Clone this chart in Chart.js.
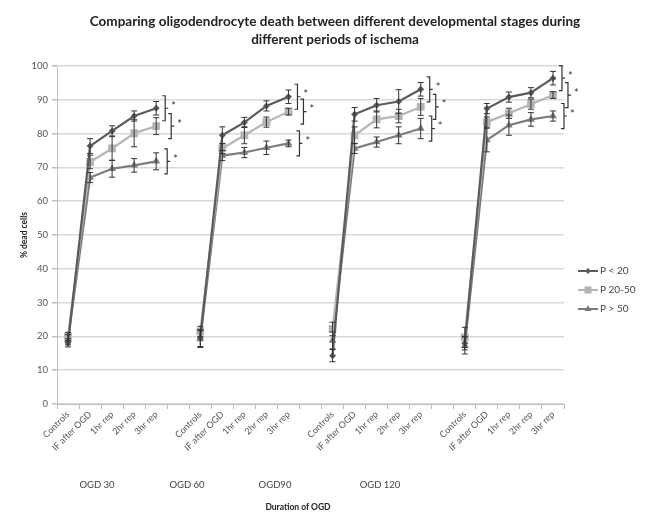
<!DOCTYPE html>
<html lang="en">
<head>
<meta charset="UTF-8">
<title>Oligodendrocyte death</title>
<script src="https://cdn.jsdelivr.net/npm/chart.js@4.4.0/dist/chart.umd.min.js"></script>
<style>
  html, body { margin: 0; padding: 0; background: #fff; }
  #wrap { width: 651px; height: 513px; }
</style>
</head>
<body>
<div id="wrap"><canvas id="myChart" width="651" height="513"></canvas></div>
<script>
// categories: 4 OGD groups, one blank slot between groups
var stages = ['Controls', 'IF after OGD', '1hr rep', '2hr rep', '3hr rep'];
var categories = [].concat(stages, [''], stages, [''], stages, [''], stages);
var groupNames = ['OGD 30', 'OGD 60', 'OGD90', 'OGD 120'];
var seriesNames = ['P < 20', 'P 20-50', 'P > 50'];
var yTicks = [0, 10, 20, 30, 40, 50, 60, 70, 80, 90, 100];

// % dead cells
var pUnder20 = [18.1, 76.3, 80.8, 85.2, 87.5, null, 19.5, 79.5, 83.3, 88.2, 90.9, null, 14.3, 85.7, 88.4, 89.5, 93.1, null, 18.0, 87.4, 90.8, 92.1, 96.4];
var p20to50  = [20.0, 71.6, 75.6, 80.1, 82.2, null, 21.5, 75.6, 79.5, 83.4, 86.5, null, 22.2, 79.5, 84.2, 85.2, 87.9, null, 19.7, 83.4, 86.0, 88.7, 91.4];
var pOver50  = [19.0, 67.0, 69.6, 70.6, 71.8, null, 19.2, 73.5, 74.4, 75.8, 77.1, null, 18.8, 75.6, 77.5, 79.5, 81.5, null, 17.3, 78.1, 82.5, 84.2, 85.2];

// error (+/-)
var errUnder20 = [1.2, 2.2, 1.5, 1.5, 2.0, null, 2.5, 2.5, 1.5, 1.5, 2.0, null, 1.8, 2.0, 2.0, 3.5, 2.0, null, 2.0, 1.5, 1.5, 1.5, 2.0];
var err20to50  = [1.2, 2.0, 3.5, 4.0, 2.5, null, 1.5, 1.5, 2.5, 1.5, 1.0, null, 2.0, 2.5, 2.5, 2.0, 2.5, null, 3.0, 1.5, 1.5, 1.5, 1.0];
var errOver50  = [1.5, 1.5, 2.5, 2.0, 2.5, null, 2.5, 1.5, 1.5, 2.0, 1.0, null, 2.5, 1.5, 1.5, 2.5, 3.0, null, 2.5, 3.5, 3.0, 2.0, 1.5];

// significance brackets sit on the 3hr rep point of each group
var sigIndex = [4, 10, 16, 22];

var lineColors = ['#5b5b5b', '#b5b5b5', '#7c7c7c'];
var FONT = 'Lato, "Liberation Sans", sans-serif';

// error bars
var errorBarPlugin = {
  id: 'errorBars',
  afterDatasetsDraw: function (chart) {
    var ctx = chart.ctx;
    var y = chart.scales.y;
    ctx.save();
    ctx.strokeStyle = '#333';
    ctx.lineWidth = 1;
    chart.data.datasets.forEach(function (ds, di) {
      var meta = chart.getDatasetMeta(di);
      ds.data.forEach(function (v, i) {
        var e = ds.errors[i];
        if (v == null || e == null) return;
        var px = meta.data[i].x;
        var top = y.getPixelForValue(v + e);
        var bot = y.getPixelForValue(v - e);
        ctx.beginPath();
        ctx.moveTo(px, top); ctx.lineTo(px, bot);
        ctx.moveTo(px - 3, top); ctx.lineTo(px + 3, top);
        ctx.moveTo(px - 3, bot); ctx.lineTo(px + 3, bot);
        ctx.stroke();
      });
    });
    ctx.restore();
  }
};

// brackets with asterisks
var bracketPlugin = {
  id: 'brackets',
  afterDatasetsDraw: function (chart, args, opts) {
    var ctx = chart.ctx;
    var y = chart.scales.y;
    ctx.save();
    ctx.strokeStyle = '#333';
    ctx.fillStyle = '#333';
    ctx.lineWidth = 1.2;
    ctx.font = '11px ' + FONT;
    ctx.textBaseline = 'middle';
    chart.data.datasets.forEach(function (ds, di) {
      var meta = chart.getDatasetMeta(di);
      sigIndex.forEach(function (i) {
        var v = ds.data[i];
        var bx = meta.data[i].x + opts.offsets[di];
        var top = y.getPixelForValue(v + opts.half);
        var bot = y.getPixelForValue(v - opts.half);
        var mid = (top + bot) / 2;
        ctx.beginPath();
        ctx.moveTo(bx - 3, top); ctx.lineTo(bx, top); ctx.lineTo(bx, bot); ctx.lineTo(bx - 3, bot);
        ctx.moveTo(bx, mid); ctx.lineTo(bx + 3, mid);
        ctx.stroke();
        ctx.fillText('*', bx + 6, mid - 2);
      });
    });
    ctx.restore();
  }
};

// title, group labels, x title, legend
var textPlugin = {
  id: 'texts',
  afterDraw: function (chart) {
    var ctx = chart.ctx;
    ctx.save();
    ctx.fillStyle = '#222';
    ctx.textAlign = 'center';
    ctx.textBaseline = 'middle';
    ctx.font = 'bold 13.5px ' + FONT;
    ctx.fillText('Comparing oligodendrocyte death between different developmental stages during', 335, 22);
    ctx.fillText('different periods of ischema', 335, 40);

    ctx.font = '9.5px ' + FONT;
    ctx.fillStyle = '#444';
    var gx = [97, 187, 275, 380];
    groupNames.forEach(function (g, i) { ctx.fillText(g, gx[i], 485); });

    ctx.font = 'bold 8.5px ' + FONT;
    ctx.fillStyle = '#222';
    ctx.fillText('Duration of OGD', 298, 507);

    // legend
    ctx.textAlign = 'left';
    ctx.font = '10px ' + FONT;
    var rows = [271, 290, 309];
    var styles = ['rectRot', 'rect', 'triangle'];
    var radii = [3, 5, 4];
    chart.data.datasets.forEach(function (ds, i) {
      ctx.strokeStyle = lineColors[i];
      ctx.lineWidth = 2;
      ctx.beginPath();
      ctx.moveTo(578, rows[i]); ctx.lineTo(598, rows[i]);
      ctx.stroke();
      ctx.fillStyle = lineColors[i];
      Chart.helpers.drawPoint(ctx, { pointStyle: styles[i], radius: radii[i], borderWidth: 0 }, 588, rows[i]);
      ctx.fillStyle = '#444';
      ctx.fillText(ds.label, 600, rows[i]);
    });
    ctx.restore();
  }
};

function makeSet(label, data, errors, color, style, radius) {
  return {
    label: label,
    data: data,
    errors: errors,
    borderColor: color,
    backgroundColor: color,
    borderWidth: 2.2,
    pointStyle: style,
    pointRadius: radius,
    pointBorderWidth: 0,
    pointBackgroundColor: color,
    spanGaps: false,
    tension: 0
  };
}

var ctx = document.getElementById('myChart').getContext('2d');
var chart = new Chart(ctx, {
  type: 'line',
  data: {
    labels: categories,
    datasets: [
      makeSet(seriesNames[0], pUnder20, errUnder20, lineColors[0], 'rectRot', 3.5),
      makeSet(seriesNames[1], p20to50, err20to50, lineColors[1], 'rect', 5.5),
      makeSet(seriesNames[2], pOver50, errOver50, lineColors[2], 'triangle', 4.5)
    ]
  },
  options: {
    responsive: false,
    animation: false,
    layout: { padding: { top: 66, right: 87, bottom: 0, left: 0 } },
    plugins: {
      legend: { display: false },
      title: { display: false },
      tooltip: { enabled: false },
      brackets: { offsets: [9, 15, 11], half: 3.7 }
    },
    scales: {
      x: {
        offset: true,
        afterFit: function (s) { s.height = 109; },
        grid: { display: true, offset: true, drawOnChartArea: false, drawTicks: true, tickLength: 5, tickColor: '#bfbfbf' },
        border: { color: '#bfbfbf', width: 1 },
        ticks: {
          autoSkip: false, maxRotation: 45, minRotation: 45,
          font: { family: FONT, size: 9 }, color: '#555', padding: 0
        }
      },
      y: {
        min: 0, max: 100,
        afterFit: function (s) { s.width = 57; },
        afterBuildTicks: function (s) { s.ticks = yTicks.map(function (v) { return { value: v }; }); },
        title: {
          display: true, text: '% dead cells',
          font: { family: FONT, size: 8.5, weight: 'bold' }, color: '#222',
          padding: { top: 19, bottom: 0 }
        },
        grid: { color: '#d9d9d9', lineWidth: 1.5, tickLength: 5, tickColor: '#bfbfbf' },
        border: { color: '#bfbfbf', width: 1 },
        ticks: { font: { family: FONT, size: 9.5 }, color: '#555', padding: 4 }
      }
    }
  },
  plugins: [errorBarPlugin, bracketPlugin, textPlugin]
});
</script>
</body>
</html>
